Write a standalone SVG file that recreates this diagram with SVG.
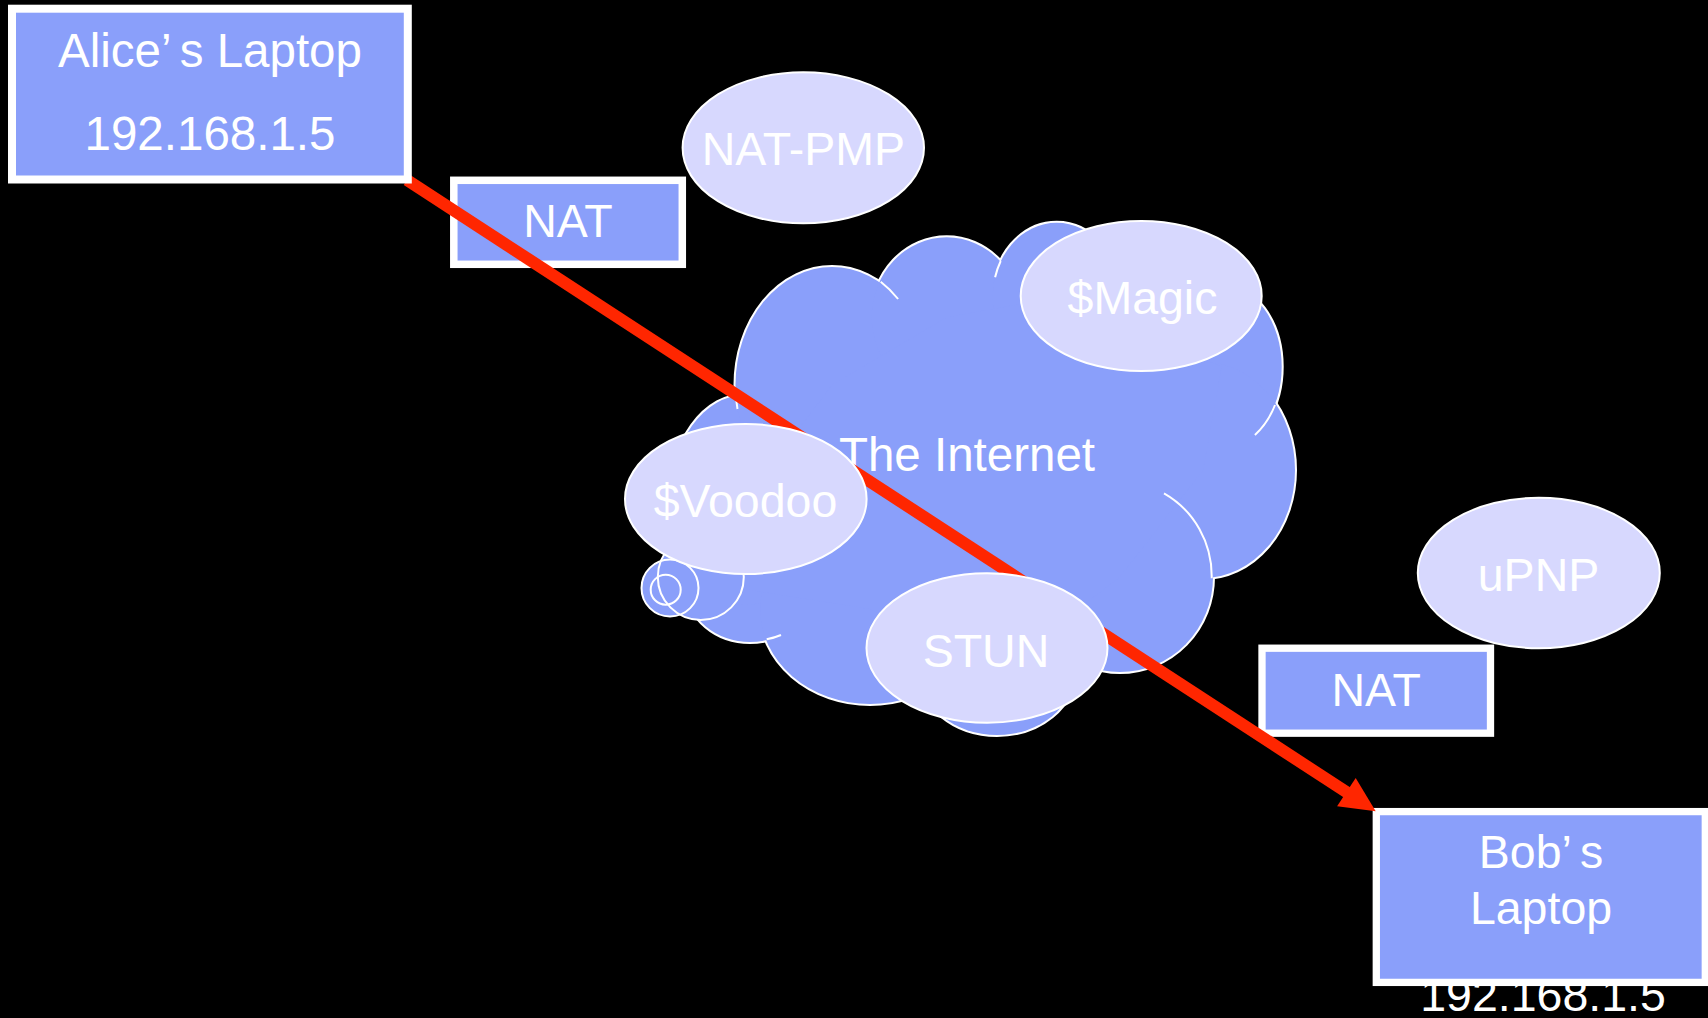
<svg xmlns="http://www.w3.org/2000/svg" width="1708" height="1018" viewBox="0 0 1708 1018">
<defs>
<style>
.box{fill:#8A9FFA;stroke:#FFFFFF;}
.oval{fill:#D7D8FE;stroke:#FFFFFF;stroke-width:2;}
.lbl{font-family:"Liberation Sans",Arial,Helvetica,sans-serif;fill:#FFFFFF;text-anchor:middle;font-size:46.5px;}
.big{font-size:47.5px;}
.inner{fill:none;stroke:#FFFFFF;stroke-width:2;}
.tailf{fill:#8A9FFA;stroke:none;}
.tails{fill:none;stroke:#FFFFFF;stroke-width:2;}
</style>
<g id="bumps">
<ellipse cx="750" cy="590" rx="62" ry="52"/>
<ellipse cx="745" cy="500" rx="75" ry="105"/>
<ellipse cx="832" cy="385" rx="96.5" ry="118"/>
<ellipse cx="946.7" cy="317.3" rx="75" ry="80"/>
<ellipse cx="1056.7" cy="297.7" rx="64" ry="75"/>
<ellipse cx="1221.7" cy="366.7" rx="60" ry="82"/>
<ellipse cx="1203" cy="470" rx="92" ry="108"/>
<ellipse cx="1120" cy="577" rx="93" ry="95"/>
<ellipse cx="997" cy="671" rx="78" ry="64"/>
<ellipse cx="870" cy="609" rx="110" ry="95"/>
</g>
<g id="tail">
<circle cx="700.8" cy="577" r="43"/>
<circle cx="670" cy="588" r="28.5"/>
<circle cx="665.7" cy="589.7" r="15"/>
</g>
</defs>
<rect x="0" y="0" width="1708" height="1018" fill="#000000"/>

<g id="internet">
<use href="#bumps" fill="none" stroke="#FFFFFF" stroke-width="4"/>
<use href="#bumps" fill="#8A9FFA" stroke="none"/>
<polygon fill="#8A9FFA" points="745,500 832,385 946.7,317.3 1056.7,297.7 1221.7,366.7 1203,470 1120,577 997,671 870,609 750,590"/>
<path class="inner" d="M735.9,395 A96.5,118 0 0 0 737.5,409 M880.7,281.7 A96.5,118 0 0 1 898.1,299 M1000.7,261 A64,75 0 0 0 995.1,277.3 M1275,405 A60,82 0 0 1 1254.9,435 M1164,493.3 A93,95 0 0 1 1211.7,578.3 M766.7,639.3 A62,52 0 0 0 781,635"/>
<use href="#tail" fill="#8A9FFA" stroke="none"/>
<use href="#tail" fill="none" stroke="#FFFFFF" stroke-width="2"/>
<text class="lbl big" x="967" y="470.5">The Internet</text>
</g>

<g id="nat1">
<rect class="box" x="453.8" y="180.3" width="228.5" height="84" stroke-width="7.5"/>
<text class="lbl" x="568" y="237.3">NAT</text>
</g>

<g id="nat2">
<rect class="box" x="1262" y="648.2" width="228.5" height="85" stroke-width="7.3"/>
<text class="lbl" x="1376.2" y="705.8">NAT</text>
</g>

<g id="bob">
<text class="lbl" x="1543" y="1011">192.168.1.5</text>
<rect class="box" x="1376.3" y="811.6" width="329" height="170.8" stroke-width="7.3"/>
<text class="lbl" x="1541" y="867.8">Bob’<tspan dx="9">s</tspan></text>
<text class="lbl" x="1541" y="924.4">Laptop</text>
</g>

<g id="connectors">
<line x1="407" y1="180" x2="1350.6" y2="794.8" stroke="#FF2600" stroke-width="12"/>
<polygon fill="#FF2600" points="1375.7,811.2 1337.1,806.3 1355.7,777.9"/>
</g>

<g id="alice">
<rect class="box" x="12" y="8.7" width="395.8" height="170.8" stroke-width="8"/>
<text class="lbl big" x="210" y="66.5">Alice’<tspan dx="9">s Laptop</tspan></text>
<text class="lbl big" x="210" y="150">192.168.1.5</text>
</g>

<g id="natpmp">
<ellipse class="oval" cx="803.3" cy="147.8" rx="120.7" ry="75.5"/>
<text class="lbl" x="803.3" y="165">NAT-PMP</text>
</g>

<g id="voodoo">
<ellipse class="oval" cx="745.8" cy="499" rx="120.8" ry="75"/>
<text class="lbl" x="745.5" y="517">$Voodoo</text>
</g>

<g id="stun">
<ellipse class="oval" cx="987" cy="648" rx="120.5" ry="74.7"/>
<text class="lbl" x="986" y="666.5">STUN</text>
</g>

<g id="magic">
<ellipse class="oval" cx="1141.2" cy="296" rx="120.5" ry="75"/>
<text class="lbl" x="1142.5" y="314">$Magic</text>
</g>

<g id="upnp">
<ellipse class="oval" cx="1538.8" cy="573" rx="121" ry="75.2"/>
<text class="lbl" x="1538.5" y="591">uPNP</text>
</g>
</svg>
